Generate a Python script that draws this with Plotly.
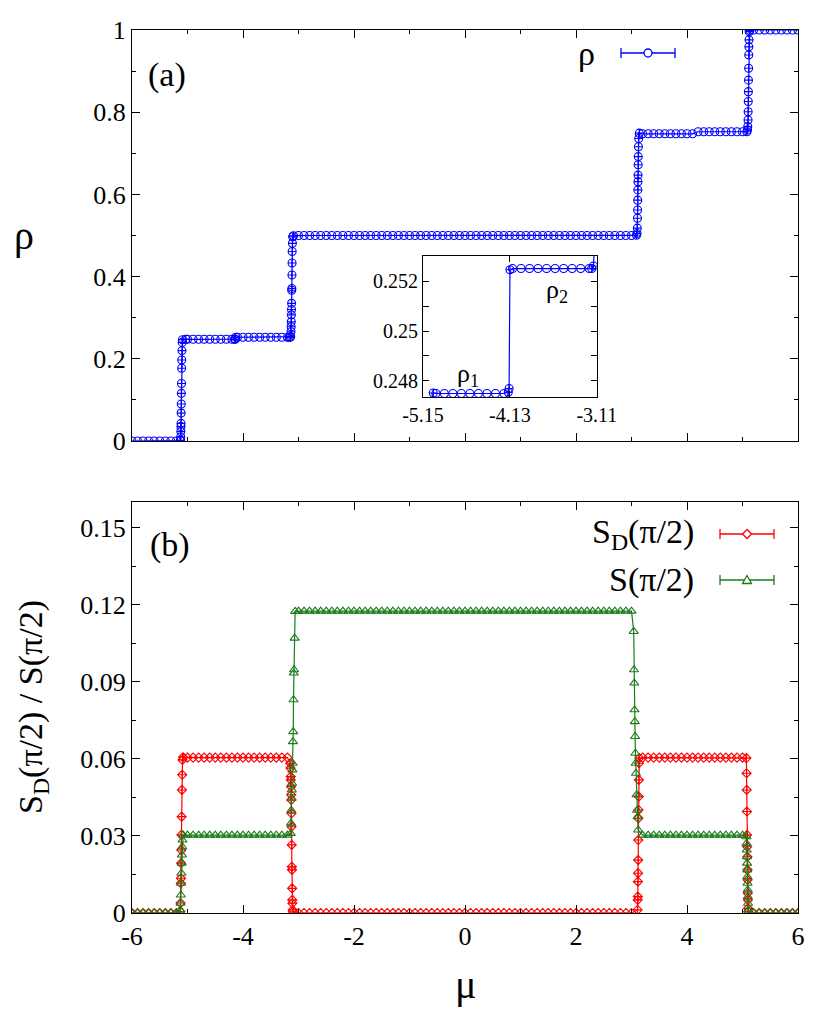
import pandas as pd
import plotly.graph_objects as go
from plotly.subplots import make_subplots

# coarse scan in mu (step 0.1), transition points come from the fine scan below
mu_coarse = [
    -6.0, -5.9, -5.8, -5.7, -5.6, -5.5, -5.4, -5.3, -5.2,
    -5.0, -4.9, -4.8, -4.7, -4.6, -4.5, -4.4, -4.3, -4.2,
    -4.1, -4.0, -3.9, -3.8, -3.7, -3.6, -3.5, -3.4, -3.3, -3.2,
    -3.0, -2.9, -2.8, -2.7, -2.6, -2.5, -2.4, -2.3, -2.2, -2.1, -2.0,
    -1.9, -1.8, -1.7, -1.6, -1.5, -1.4, -1.3, -1.2, -1.1, -1.0,
    -0.9, -0.8, -0.7, -0.6, -0.5, -0.4, -0.3, -0.2, -0.1, 0.0,
    0.1, 0.2, 0.3, 0.4, 0.5, 0.6, 0.7, 0.8, 0.9, 1.0,
    1.1, 1.2, 1.3, 1.4, 1.5, 1.6, 1.7, 1.8, 1.9, 2.0,
    2.1, 2.2, 2.3, 2.4, 2.5, 2.6, 2.7, 2.8, 2.9, 3.0,
    3.2, 3.3, 3.4, 3.5, 3.6, 3.7, 3.8, 3.9, 4.0, 4.1,
    4.2, 4.3, 4.4, 4.5, 4.6, 4.7, 4.8, 4.9, 5.0,
    5.2, 5.3, 5.4, 5.5, 5.6, 5.7, 5.8, 5.9, 6.0,
]
rho_coarse = [0.0] * 9 + [0.2475] * 9 + [0.2525] * 10 + [0.5] * 61 + [0.7475] * 10 + [0.7525] * 9 + [1.0] * 9
sd_coarse = [0.0] * 9 + [0.0605] * 19 + [0.0] * 61 + [0.0605] * 19 + [0.0] * 9
s_coarse = [0.0] * 9 + [0.0303] * 19 + [0.1175] * 61 + [0.0303] * 19 + [0.0] * 9

# fine scans around the jumps
mu_rho_fine = [
    -5.13, -5.125, -5.122, -5.12, -5.118, -5.116, -5.114, -5.112, -5.11, -5.108, -5.106, -5.104, -5.10, -5.095, -5.09,
    -5.03, -4.15, -4.14, -4.13, -3.17,
    -3.15, -3.14, -3.135, -3.132, -3.13, -3.128, -3.126, -3.124, -3.122, -3.12, -3.118, -3.116, -3.114, -3.11, -3.105, -3.09,
    3.09, 3.1, 3.105, 3.108, 3.11, 3.112, 3.114, 3.116, 3.118, 3.12, 3.122, 3.125, 3.13, 3.14,
    5.08, 5.09, 5.095, 5.1, 5.102, 5.104, 5.106, 5.108, 5.11, 5.112, 5.115, 5.118, 5.12, 5.13,
]
rho_fine = [
    0.001, 0.002, 0.01, 0.023, 0.035, 0.043, 0.068, 0.09, 0.116, 0.14, 0.177, 0.197, 0.22, 0.24, 0.2465,
    0.24752, 0.24755, 0.2477, 0.25245, 0.2525,
    0.2526, 0.254, 0.266, 0.278, 0.290, 0.307, 0.320, 0.335, 0.367, 0.371, 0.404, 0.433, 0.461, 0.481, 0.497, 0.4995,
    0.5005, 0.505, 0.518, 0.542, 0.562, 0.586, 0.611, 0.631, 0.647, 0.672, 0.692, 0.716, 0.736, 0.749,
    0.7525, 0.757, 0.765, 0.781, 0.801, 0.826, 0.850, 0.878, 0.907, 0.939, 0.959, 0.976, 0.996, 0.999,
]

mu_sd_fine = [
    -5.13, -5.125, -5.12, -5.118, -5.115, -5.112, -5.11, -5.105, -5.10, -5.095, -5.09, -5.08,
    -3.15, -3.145, -3.14, -3.138, -3.135, -3.132, -3.13, -3.128, -3.125, -3.122, -3.12, -3.118, -3.115, -3.112, -3.11, -3.105, -3.1,
    3.11, 3.112, 3.114, 3.116, 3.118, 3.12, 3.122, 3.125, 3.128, 3.13, 3.133, 3.136, 3.14,
    5.07, 5.073, 5.076, 5.079, 5.082, 5.085, 5.088, 5.09, 5.092, 5.095, 5.098, 5.1, 5.105,
]
sd_fine = [
    0.0005, 0.0039, 0.0116, 0.0135, 0.0194, 0.0245, 0.0304, 0.0375, 0.0479, 0.0538, 0.0596, 0.0606,
    0.0583, 0.0564, 0.0531, 0.0518, 0.0492, 0.046, 0.044, 0.0388, 0.0336, 0.0265, 0.018, 0.0168, 0.0096, 0.0051, 0.0038, 0.0012, 0.0005,
    0.0012, 0.0051, 0.0064, 0.0122, 0.0155, 0.0206, 0.0284, 0.0369, 0.0401, 0.0453, 0.0518, 0.0583, 0.0603,
    0.0603, 0.0544, 0.0479, 0.0395, 0.0304, 0.0258, 0.0219, 0.0168, 0.0129, 0.0077, 0.0051, 0.0018, 0.0005,
]

mu_s_fine = [
    -5.13, -5.125, -5.12, -5.115, -5.11, -5.105, -5.1, -5.095, -5.09, -5.08,
    -3.14, -3.135, -3.13, -3.125, -3.12, -3.115, -3.11, -3.105, -3.1, -3.095, -3.09, -3.085, -3.08, -3.07, -3.06,
    3.04, 3.045, 3.05, 3.055, 3.06, 3.065, 3.07, 3.075, 3.08, 3.09, 3.1, 3.11, 3.12,
    5.07, 5.073, 5.076, 5.079, 5.082, 5.085, 5.088, 5.09, 5.093, 5.096, 5.1, 5.105,
]
s_fine = [
    0.0012, 0.0038, 0.007, 0.0116, 0.0155, 0.0194, 0.0226, 0.0258, 0.0284, 0.0304,
    0.031, 0.035, 0.040, 0.0447, 0.0479, 0.0505, 0.0557, 0.0583, 0.0667, 0.0706, 0.083, 0.0934, 0.0947, 0.107, 0.1174,
    0.1096, 0.0947, 0.0895, 0.0791, 0.0745, 0.0687, 0.0622, 0.0583, 0.0544, 0.046, 0.040, 0.0375, 0.0323,
    0.0297, 0.0271, 0.0245, 0.0219, 0.0194, 0.0168, 0.0142, 0.0116, 0.009, 0.0064, 0.0038, 0.0012,
]

inset_ticks = [-5.15, -4.13, -3.11]
inset_yticks = [0.248, 0.25, 0.252]

FONT = "Liberation Serif"
BLUE = "#0000ff"
RED = "#ff0000"
GREEN = "#1b7b1b"

# page body has an 8px margin, so the plot box is placed 8px up/left
OFF = 8
L, T, W, H = 132 - OFF, 30 - OFF, 666, 883


def merge(mu_c, y_c, mu_f, y_f):
    a = pd.DataFrame({"mu": mu_c, "y": y_c, "fine": False})
    b = pd.DataFrame({"mu": mu_f, "y": y_f, "fine": True})
    return pd.concat([a, b]).sort_values("mu").reset_index(drop=True)


rho = merge(mu_coarse, rho_coarse, mu_rho_fine, rho_fine)
sd = merge(mu_coarse, sd_coarse, mu_sd_fine, sd_fine)
s = merge(mu_coarse, s_coarse, mu_s_fine, s_fine)

fig = make_subplots(rows=2, cols=1)

fig.add_trace(go.Scatter(
    x=rho.mu, y=rho.y, mode="lines+markers",
    line=dict(color=BLUE, width=1.2),
    marker=dict(symbol=["circle-cross-open" if f else "circle-open" for f in rho.fine],
                size=8, color=BLUE, line=dict(width=1.1)),
    showlegend=False), row=1, col=1)

fig.add_trace(go.Scatter(
    x=sd.mu, y=sd.y, mode="lines+markers",
    line=dict(color=RED, width=1.2),
    marker=dict(symbol=["diamond-cross-open" if f else "diamond-open" for f in sd.fine],
                size=7, color=RED, line=dict(width=1.1)),
    showlegend=False), row=2, col=1)

fig.add_trace(go.Scatter(
    x=s.mu, y=s.y, mode="lines+markers",
    line=dict(color=GREEN, width=1.2),
    marker=dict(symbol="triangle-up-open", size=8, color=GREEN, line=dict(width=1.1)),
    showlegend=False), row=2, col=1)

# inset: zoom on the rho = 1/4 plateau
fig.add_trace(go.Scatter(
    x=rho.mu, y=rho.y, mode="lines+markers", xaxis="x3", yaxis="y3",
    line=dict(color=BLUE, width=1.2),
    marker=dict(symbol=["circle-cross-open" if f else "circle-open" for f in rho.fine],
                size=8, color=BLUE, line=dict(width=1.1)),
    showlegend=False))

axis_style = dict(showline=True, linecolor="black", linewidth=1.2, mirror="allticks",
                  ticks="inside", ticklen=8, tickcolor="black", showgrid=False, zeroline=False)

xticks = [-6, -4, -2, 0, 2, 4, 6]
xticktext = ["-6", "-4", "-2", "0", "2", "4", "6"]

fig.update_xaxes(axis_style, range=[-6, 6], tickvals=xticks, ticktext=xticktext,
                 minor=dict(ticks="inside", ticklen=4, tickcolor="black", dtick=1, tick0=0))
fig.update_xaxes(showticklabels=False, row=1, col=1)
fig.update_yaxes(axis_style)
fig.update_yaxes(range=[0, 1], dtick=0.2, tick0=0,
                 minor=dict(ticks="inside", ticklen=4, tickcolor="black", dtick=0.1), row=1, col=1)
fig.update_yaxes(range=[0, 0.16], dtick=0.03, tick0=0,
                 minor=dict(ticks="inside", ticklen=4, tickcolor="black", dtick=0.015), row=2, col=1)
fig.update_xaxes(tickfont=dict(family=FONT, size=26, color="black"))
fig.update_yaxes(tickfont=dict(family=FONT, size=26, color="black"))

fig.update_layout(
    width=830, height=1015,
    margin=dict(l=L, r=830 - L - W, t=T, b=1015 - T - H, autoexpand=False),
    plot_bgcolor="white", paper_bgcolor="white",
    font=dict(family=FONT, color="black"),
    yaxis=dict(domain=[0.5345, 1.0]),
    yaxis2=dict(domain=[0.0, 0.4655]),
    xaxis3=dict(axis_style, domain=[0.437, 0.698], anchor="y3", range=[-5.15, -3.11],
                tickvals=inset_ticks, ticktext=["-5.15", "-4.13", "-3.11"],
                tickfont=dict(family=FONT, size=20, color="black"), ticklen=6),
    yaxis3=dict(axis_style, domain=[0.5844, 0.744], anchor="x3", range=[0.24736, 0.253],
                tickvals=inset_yticks, ticktext=["0.248", "0.25", "0.252"],
                tickfont=dict(family=FONT, size=20, color="black"), ticklen=6,
                minor=dict(ticks="inside", ticklen=6, tickcolor="black", tickvals=[0.249, 0.251])),
)


def px(x):
    return (x - 132) / W


def py(y):
    return (913 - y) / H


def note(text, x, y, size, **kw):
    opts = dict(showarrow=False, xanchor="center", yanchor="middle", xref="paper", yref="paper")
    opts.update(kw)
    fig.add_annotation(x=x, y=y, text=text, font=dict(family=FONT, size=size, color="black"), **opts)


note("ρ<sub>1</sub>", -4.62, 0.24824, 26, xref="x3", yref="y3")
note("ρ<sub>2</sub>", -3.58, 0.2516, 26, xref="x3", yref="y3")

note("(a)", px(167), py(75), 34)
note("(b)", px(170), py(545), 34)

note("ρ", px(24), py(235), 40)
note("μ", px(465), py(985), 40)
note("S<sub>D</sub>(π/2) / S(π/2)", px(33), py(707), 34, textangle=-90)


# hand-made key, gnuplot style (label, then errorbar sample)
def key_entry(label, x_text, y, color, marker):
    yp = py(y)
    x0, x1 = px(x_text + 24), px(x_text + 78)
    xc = (x0 + x1) / 2
    note(label, px(x_text), yp, 34, xanchor="right")
    line = dict(color=color, width=1.3)
    fig.add_shape(type="line", xref="paper", yref="paper", x0=x0, x1=x1, y0=yp, y1=yp, line=line)
    for xe in (x0, x1):
        fig.add_shape(type="line", xref="paper", yref="paper", ysizemode="pixel", yanchor=yp,
                      x0=xe, x1=xe, y0=-5, y1=5, line=line)
    shape = dict(xref="paper", yref="paper", xsizemode="pixel", ysizemode="pixel",
                 xanchor=xc, yanchor=yp, fillcolor="white", line=line)
    if marker == "circle":
        fig.add_shape(shape, type="circle", x0=-4, x1=4, y0=-4, y1=4)
    else:
        fig.add_shape(shape, type="path", path=marker)


diamond = "M 0,4.5 L 4.5,0 L 0,-4.5 L -4.5,0 Z"
triangle = "M -4.5,-3.5 L 4.5,-3.5 L 0,4.5 Z"

key_entry("ρ", 597, 53, BLUE, "circle")
key_entry("S<sub>D</sub>(π/2)", 696, 534, RED, diamond)
key_entry("S(π/2)", 696, 580, GREEN, triangle)

fig.write_html("out.html")
